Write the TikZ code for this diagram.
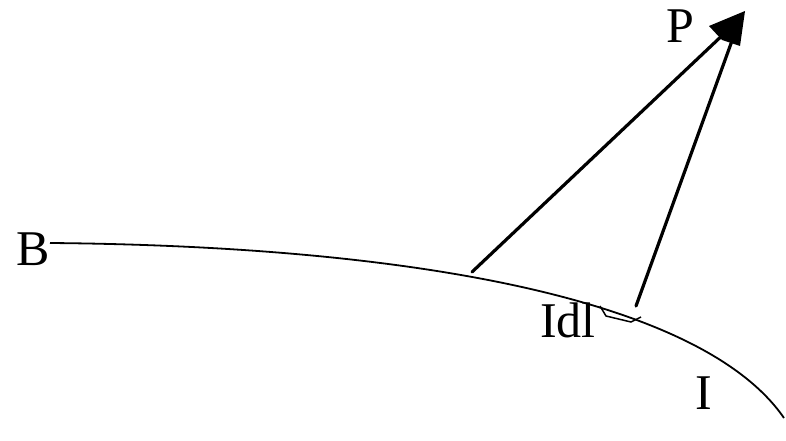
\documentclass[tikz,border=0pt]{standalone}
\usepackage{fontspec}
\setmainfont{Liberation Serif}
\begin{document}
\begin{tikzpicture}[x=1pt,y=1pt,
  lbl/.style={inner sep=0pt,anchor=base,font=\fontsize{50}{50}\selectfont},
  vec/.style={line width=3.2pt,line cap=round},
  wire/.style={line width=1.8pt}]
\useasboundingbox (0,0) rectangle (786,-441);
\node[lbl] (P) at (680,-43) {P};
\node[lbl] (B) at (33,-265) {B};
\node[lbl] (Idl) at (568,-337) {Idl};
\node[lbl] (I) at (704,-409) {I};
\coordinate (start) at (50,-243);
\coordinate (end) at (784,-418);
\coordinate (tip) at (745,-11);
\coordinate (a) at (472,-272);
\coordinate (b) at (636,-306);
\draw[wire] (start) .. controls (400,-246) and (700,-296) .. (end);
\draw[vec] (a) -- (728,-30);
\draw[vec] (b) -- (733,-38);
\fill (tip) -- (709,-26) -- (722,-40) -- (740,-46) -- cycle;
\draw[line width=1.5pt] (600,-306) -- (606,-316) -- (631,-322) -- (641,-317);
\end{tikzpicture}
\end{document}
